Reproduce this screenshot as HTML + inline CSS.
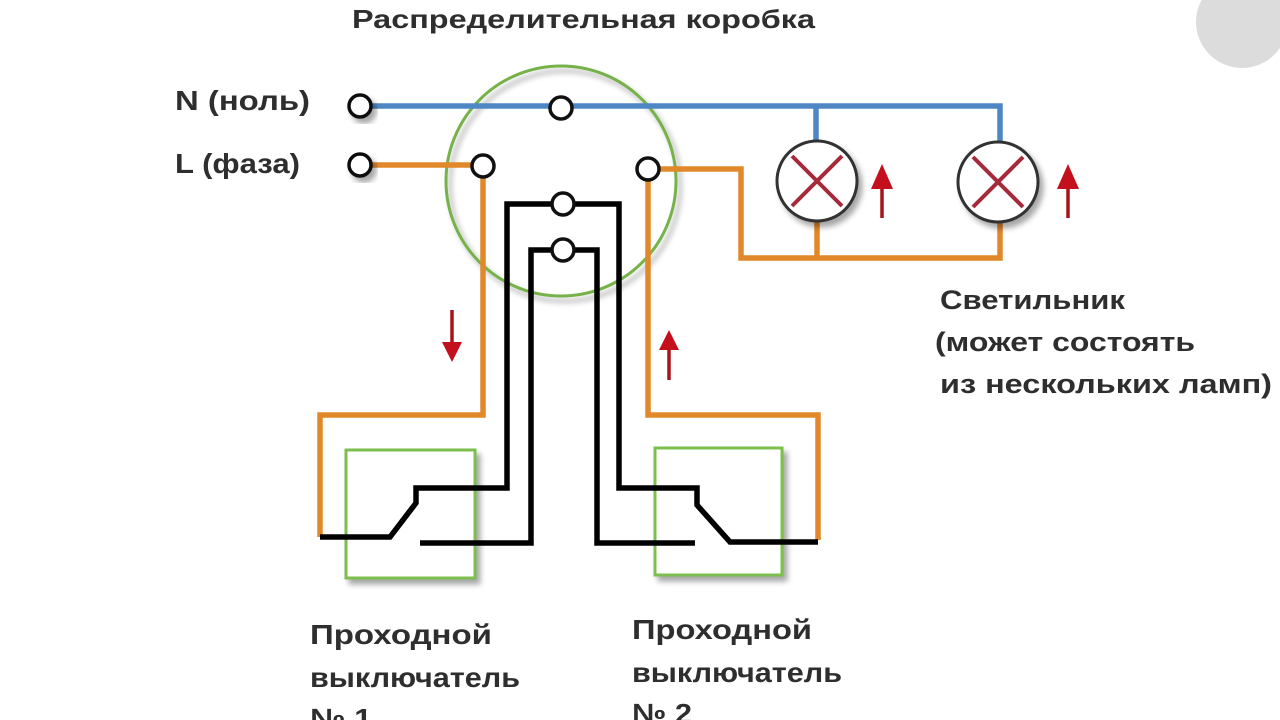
<!DOCTYPE html>
<html><head><meta charset="utf-8"><style>
html,body{margin:0;padding:0;background:#fff;width:1280px;height:720px;overflow:hidden}
svg text{font-family:"Liberation Sans","DejaVu Sans",sans-serif;font-weight:bold;fill:#2e2e2e}
</style></head><body>
<svg width="1280" height="720" viewBox="0 0 1280 720" xmlns="http://www.w3.org/2000/svg">
<defs><filter id="sh" x="-30%" y="-30%" width="160%" height="160%"><feGaussianBlur in="SourceAlpha" stdDeviation="3"/><feOffset dx="4" dy="5"/><feComponentTransfer><feFuncA type="linear" slope="0.35"/></feComponentTransfer><feMerge><feMergeNode/><feMergeNode in="SourceGraphic"/></feMerge></filter></defs>
<circle cx="1242" cy="22" r="46" fill="#dcdcdc"/>
<text x="352" y="28" font-size="26" textLength="463" lengthAdjust="spacingAndGlyphs">Распределительная коробка</text>
<text x="175" y="110" font-size="28" textLength="135" lengthAdjust="spacingAndGlyphs">N (ноль)</text>
<text x="175" y="173" font-size="28" textLength="125" lengthAdjust="spacingAndGlyphs">L (фаза)</text>
<text x="940" y="309" font-size="27" textLength="185" lengthAdjust="spacingAndGlyphs">Светильник</text>
<text x="935" y="351" font-size="27" textLength="260" lengthAdjust="spacingAndGlyphs">(может состоять</text>
<text x="940" y="393" font-size="27" textLength="332" lengthAdjust="spacingAndGlyphs">из нескольких ламп)</text>
<text x="310" y="644" font-size="28" textLength="182" lengthAdjust="spacingAndGlyphs">Проходной</text>
<text x="310" y="687" font-size="28" textLength="210" lengthAdjust="spacingAndGlyphs">выключатель</text>
<text x="310" y="728" font-size="28" textLength="62" lengthAdjust="spacingAndGlyphs">№ 1</text>
<text x="632" y="639" font-size="28" textLength="180" lengthAdjust="spacingAndGlyphs">Проходной</text>
<text x="632" y="682" font-size="28" textLength="210" lengthAdjust="spacingAndGlyphs">выключатель</text>
<text x="632" y="723" font-size="28" textLength="60" lengthAdjust="spacingAndGlyphs">№ 2</text>

<circle cx="561" cy="181" r="115" fill="none" stroke="#76b24a" stroke-width="3" filter="url(#sh)"/>
<rect x="346" y="450" width="129" height="128" fill="#fff" stroke="#7cbf4e" stroke-width="3" filter="url(#sh)"/>
<rect x="655" y="448" width="127" height="127" fill="#fff" stroke="#7cbf4e" stroke-width="3" filter="url(#sh)"/>

<g fill="none" stroke-width="5.5" stroke-linejoin="miter">
<path d="M360 106 H1000 V143 M816 106 V141" stroke="#4f87c5"/>
<path d="M360 165 H483 V415 H320 V537" stroke="#e0882a"/>
<path d="M648 169 H741 V258 H1000 V220 M817 258 V220" stroke="#e0882a"/>
<path d="M648 169 V415 H818 V540" stroke="#e0882a"/>
<path d="M563 204 H507 V488 H416 V503 L390 537 H320" stroke="#000"/>
<path d="M563 204 H619 V488 H697 V505 L730 542 H818" stroke="#000"/>
<path d="M563 250 H531 V543 H420" stroke="#000"/>
<path d="M563 250 H597 V543 H695" stroke="#000"/>
</g>
<g fill="#fff" stroke="#111" stroke-width="3.5">
<circle cx="360" cy="106" r="11" filter="url(#sh)"/>
<circle cx="561" cy="108" r="11"/>
<circle cx="360" cy="165" r="11" filter="url(#sh)"/>
<circle cx="483" cy="166" r="11"/>
<circle cx="648" cy="169" r="11"/>
<circle cx="563" cy="204" r="11"/>
<circle cx="563" cy="250" r="11"/>
</g>
<g stroke="#333" stroke-width="3" fill="#fff">
<circle cx="817" cy="181" r="40" filter="url(#sh)"/>
<circle cx="998" cy="182" r="40" filter="url(#sh)"/>
</g>
<g stroke="#a52a3a" stroke-width="4">
<path d="M792 156 L842 206 M842 156 L792 206"/>
<path d="M973 157 L1023 207 M1023 157 L973 207"/>
</g>
<g fill="#c4101c" stroke="#a8141c" stroke-width="3.5">
<path d="M452 310 V348"/><path d="M442 342 L462 342 L452 362 Z" stroke="none"/>
<path d="M669 346 V380"/><path d="M659 350 L679 350 L669 330 Z" stroke="none"/>
<path d="M882 180 V218"/><path d="M871 189 L893 189 L882 164 Z" stroke="none"/>
<path d="M1068 180 V218"/><path d="M1057 189 L1079 189 L1068 164 Z" stroke="none"/>
</g>
</svg>
</body></html>
